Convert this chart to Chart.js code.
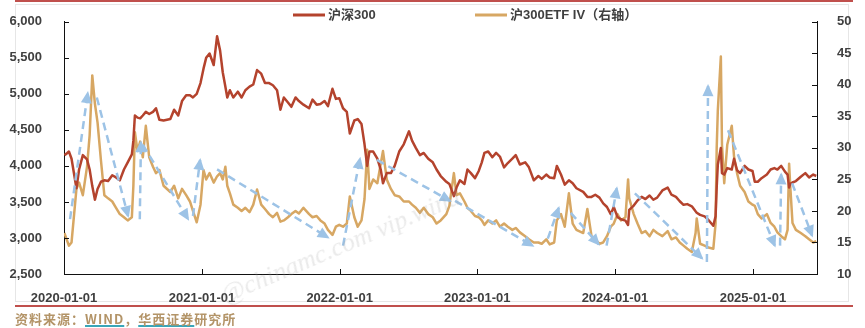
<!DOCTYPE html>
<html>
<head>
<meta charset="utf-8">
<script src="https://cdn.jsdelivr.net/npm/chart.js@4.4.1/dist/chart.umd.min.js"></script>
<style>
  body { margin: 0; background: #fff; }
  #wrap { position: relative; width: 865px; height: 328px; overflow: hidden; }
  #canvas { position: absolute; left: 0; top: 0; }
  .frame { position: absolute; left: 15px; top: 4px; width: 832px; height: 296px; border: 1px solid #e6e6e6; }
  .topline { position: absolute; left: 15px; width: 838px; top: 0; height: 2px; background: #c0504d; }
  .bottomline { position: absolute; left: 15px; width: 838px; top: 305px; height: 2px; background: #c0504d; }
  .source { position: absolute; left: 15px; top: 311px; font: bold 13px "Noto Sans CJK SC", sans-serif; color: #b39468; letter-spacing: 1px; line-height: 16px; }
  .source span { text-decoration: underline; text-decoration-color: #3aa6b9; text-decoration-thickness: 2px; }
  .mark { position: absolute; left: 228px; top: 280px; font: italic 26px "Liberation Serif", serif; color: rgba(160,160,160,0.22);
          transform: rotate(-23deg); transform-origin: 0 100%; white-space: nowrap; pointer-events: none; }
</style>
</head>
<body>
<div id="wrap">
  <div class="topline"></div>
  <div class="frame"></div>
  <canvas id="canvas" width="865" height="305"></canvas>
  <div class="mark">@chinamc.com vip.wind</div>
  <div class="bottomline"></div>
  <div class="source">资料来源：<span>WIND</span>，<span>华西证券</span>研究所</div>
</div>
<script>
// 날짜 (약 열흘 간격, 급등 구간은 촘촘하게)
const dates = [
  // 2020
  '2020-01-02','2020-01-08','2020-01-14','2020-01-21','2020-02-03','2020-02-10','2020-02-20','2020-03-02','2020-03-09','2020-03-16','2020-03-23','2020-03-30',
  '2020-04-08','2020-04-17','2020-04-27','2020-05-08','2020-05-18','2020-05-28','2020-06-08','2020-06-18','2020-06-29','2020-07-03','2020-07-07','2020-07-14',
  '2020-07-21','2020-07-28','2020-08-05','2020-08-14','2020-08-24','2020-09-01','2020-09-10','2020-09-21','2020-10-09','2020-10-19','2020-10-30','2020-11-09',
  '2020-11-20','2020-11-30','2020-12-08','2020-12-18','2020-12-28',
  // 2021
  '2021-01-05','2021-01-12','2021-01-21','2021-02-01','2021-02-10','2021-02-18','2021-02-25','2021-03-04','2021-03-09','2021-03-16','2021-03-25','2021-04-06',
  '2021-04-16','2021-04-26','2021-05-07','2021-05-17','2021-05-27','2021-06-07','2021-06-17','2021-06-28','2021-07-08','2021-07-19','2021-07-28','2021-08-06',
  '2021-08-17','2021-08-26','2021-09-06','2021-09-15','2021-09-27','2021-10-12','2021-10-21','2021-11-01','2021-11-11','2021-11-22','2021-12-01','2021-12-13',
  '2021-12-22','2021-12-31',
  // 2022
  '2022-01-10','2022-01-20','2022-01-28','2022-02-09','2022-02-18','2022-02-28','2022-03-08','2022-03-15','2022-03-21','2022-03-31','2022-04-11','2022-04-20',
  '2022-04-26','2022-05-06','2022-05-17','2022-05-27','2022-06-08','2022-06-20','2022-07-04','2022-07-12','2022-07-22','2022-08-02','2022-08-12','2022-08-24',
  '2022-09-05','2022-09-15','2022-09-26','2022-10-11','2022-10-19','2022-10-31','2022-11-07','2022-11-16','2022-11-28','2022-12-06','2022-12-15','2022-12-26',
  // 2023
  '2023-01-05','2023-01-13','2023-01-20','2023-01-30','2023-02-10','2023-02-20','2023-03-02','2023-03-13','2023-03-23','2023-04-04','2023-04-13','2023-04-24',
  '2023-05-08','2023-05-18','2023-05-31','2023-06-12','2023-06-21','2023-07-03','2023-07-12','2023-07-24','2023-07-31','2023-08-11','2023-08-21','2023-09-01',
  '2023-09-11','2023-09-21','2023-10-09','2023-10-20','2023-10-31','2023-11-10','2023-11-21','2023-12-01','2023-12-11','2023-12-21','2023-12-29',
  // 2024
  '2024-01-08','2024-01-17','2024-01-29','2024-02-05','2024-02-08','2024-02-20','2024-03-01','2024-03-12','2024-03-22','2024-04-02','2024-04-12','2024-04-22',
  '2024-05-06','2024-05-20','2024-05-30','2024-06-11','2024-06-21','2024-07-01','2024-07-11','2024-07-23','2024-08-02','2024-08-05','2024-08-14','2024-08-26',
  '2024-09-05','2024-09-18','2024-09-24','2024-09-27','2024-09-30','2024-10-08','2024-10-11','2024-10-17','2024-10-25','2024-11-06','2024-11-12','2024-11-20',
  '2024-11-28','2024-12-10','2024-12-20','2024-12-31',
  // 2025
  '2025-01-06','2025-01-14','2025-01-24','2025-02-07','2025-02-17','2025-02-27','2025-03-07','2025-03-17','2025-03-27','2025-04-03','2025-04-07','2025-04-10',
  '2025-04-16','2025-04-25','2025-05-08','2025-05-20','2025-05-30','2025-06-10','2025-06-18'
];

// 沪深300 (좌축)
const csi300 = [
  4150,4170,4200,4100,3690,3950,4150,4090,3950,3720,3530,3680, 3780,3800,3790,3870,3840,3800,3950,4050,4160,4350,4700,4670,
  4660,4700,4750,4720,4750,4800,4640,4630,4650,4780,4700,4900, 4980,4980,4950,5000,5150,
  5350,5500,5560,5400,5800,5600,5300,5100,4950,5050,4950,5030, 4950,5050,5100,5130,5330,5280,5150,5150,5120,5050,4780,4950,
  4880,4820,4950,4900,4850,4800,4920,4850,4860,4900,4830,5070, 4930,4940,
  4800,4750,4450,4630,4650,4580,4300,4000,4200,4200,4100,3950, 3760,3900,3900,4000,4200,4300,4480,4350,4250,4150,4180,4100,
  4050,3950,3860,3780,3750,3580,3700,3800,3750,3950,3900,3830,
  3930,4050,4180,4200,4120,4180,4130,3980,4040,4100,4150,4020, 4050,3980,3800,3860,3820,3880,3840,3830,4000,3880,3740,3800,
  3760,3690,3640,3570,3570,3600,3560,3480,3430,3330,3430,
  3290,3260,3240,3180,3390,3450,3520,3570,3540,3590,3530,3560, 3660,3700,3600,3570,3510,3460,3470,3440,3370,3350,3320,3300,
  3250,3170,3300,3700,4020,4250,3900,3880,3970,3950,4100,3940, 3900,4000,3950,3930,
  3780,3780,3830,3880,3950,3970,3950,4000,3920,3880,3700,3750, 3770,3790,3850,3900,3840,3880,3860
];

// 沪300ETF IV (우축)
const etfIV = [
  16.5,15.5,14.5,15.0,23.5,24.5,22.5,27.0,32.0,41.5,37.0,34.0, 28.0,22.5,22.0,21.5,20.5,19.5,19.0,18.5,19.0,24.0,32.5,29.5,
  31.0,28.5,33.5,28.5,27.0,26.0,26.5,24.0,23.0,24.0,22.0,23.5, 22.5,21.5,20.0,18.2,21.0,
  26.5,25.0,26.0,24.5,25.5,26.0,25.0,27.0,24.0,22.8,21.0,20.5, 20.0,20.5,19.8,21.0,23.4,21.0,20.3,19.5,19.0,19.7,18.3,18.5,
  19.0,19.5,20.0,19.6,20.5,19.5,19.0,19.2,18.5,18.0,17.0,16.2, 17.5,17.8,
  17.5,18.0,22.3,19.0,17.5,18.5,21.9,29.7,23.5,25.0,24.4,27.5, 29.5,25.0,23.5,22.5,22.3,21.5,21.5,21.0,20.5,19.7,20.5,19.5,
  19.0,18.0,18.5,19.5,20.8,26.0,22.5,22.8,21.5,20.5,20.0,19.2,
  19.0,18.5,17.8,18.5,18.0,18.5,17.5,18.0,17.5,17.0,17.3,16.6, 16.0,15.5,15.0,15.0,14.8,15.5,14.7,15.0,18.5,19.5,17.5,22.8,
  18.0,17.0,16.5,20.3,16.0,15.5,14.8,15.0,16.0,17.5,18.0,
  19.5,18.5,19.0,25.0,22.0,19.5,18.0,16.5,16.8,16.0,17.0,16.5, 16.0,16.8,15.5,15.8,15.0,14.5,14.0,13.5,16.5,18.8,14.8,14.5,
  14.2,14.0,18.0,30.0,36.0,44.5,30.5,24.4,30.5,33.5,28.6,26.0, 24.0,23.0,21.5,21.0,
  20.8,19.5,18.8,19.5,18.1,17.5,16.6,16.0,15.5,17.0,27.5,24.0, 18.1,17.0,16.5,16.0,15.5,15.0,15.2
];

// 추세 화살표 (시작일, 시작 IV, 끝일, 끝 IV) - 우축 기준
const arrows = [
  ['2020-01-17', 18.7, '2020-03-04', 38.7],
  ['2020-03-28', 38.0, '2020-06-19', 19.2],
  ['2020-07-20', 18.7, '2020-07-23', 30.9],
  ['2020-07-28', 30.5, '2020-11-25', 18.7],
  ['2020-12-08', 19.2, '2020-12-27', 28.1],
  ['2021-02-10', 26.6, '2021-12-01', 15.8],
  ['2022-01-10', 14.5, '2022-02-24', 28.3],
  ['2022-04-10', 28.1, '2022-10-21', 21.6],
  ['2022-11-03', 21.6, '2023-05-28', 14.5],
  ['2023-07-07', 15.6, '2023-08-05', 20.5],
  ['2023-09-06', 19.7, '2023-11-19', 14.7],
  ['2023-12-10', 14.5, '2024-01-06', 23.6],
  ['2024-02-23', 22.8, '2024-08-19', 12.5],
  ['2024-09-01', 11.9, '2024-09-04', 39.8],
  ['2024-10-27', 32.8, '2025-02-28', 14.5],
  ['2025-03-14', 14.5, '2025-03-17', 25.8],
  ['2025-04-15', 24.4, '2025-06-07', 16.1]
];

const yearTicks = ['2020-01-01','2021-01-01','2022-01-01','2023-01-01','2024-01-01','2025-01-01'];
const xStart = '2020-01-01';
const xEnd = '2025-06-20';

const toMs = s => Date.parse(s + 'T00:00:00Z');
const fmtDate = v => new Date(v).toISOString().slice(0, 10);

const RED = '#b4432d';
const TAN = '#d7a763';
const BLUE = '#9dc3e6';
const TEXT = '#404040';
const TICK_FONT = { family: '"Liberation Sans", Arial, sans-serif', size: 13, weight: 'bold' };

const datasets = [
  {
    label: '沪深300',
    data: dates.map((d, i) => ({ x: toMs(d), y: csi300[i] })),
    borderColor: RED, borderWidth: 2.5, yAxisID: 'y', order: 1
  },
  {
    label: '沪300ETF IV（右轴）',
    data: dates.map((d, i) => ({ x: toMs(d), y: etfIV[i] })),
    borderColor: TAN, borderWidth: 2.5, yAxisID: 'y1', order: 2
  }
];
arrows.forEach(a => {
  datasets.push({
    label: '', isArrow: true,
    data: [{ x: toMs(a[0]), y: a[1] }, { x: toMs(a[2]), y: a[3] }],
    borderColor: BLUE, backgroundColor: BLUE, borderWidth: 2.5, borderDash: [8, 5],
    yAxisID: 'y1', order: 0
  });
});

// 화살촉
const arrowHeads = {
  id: 'arrowHeads',
  afterDatasetsDraw(chart) {
    const ctx = chart.ctx;
    chart.data.datasets.forEach((ds, i) => {
      if (!ds.isArrow) return;
      const pts = chart.getDatasetMeta(i).data;
      const a = pts[0], b = pts[1];
      const ang = Math.atan2(b.y - a.y, b.x - a.x);
      ctx.save();
      ctx.fillStyle = BLUE;
      ctx.translate(b.x, b.y);
      ctx.rotate(ang);
      ctx.beginPath();
      ctx.moveTo(2, 0);
      ctx.lineTo(-10, -5.5);
      ctx.lineTo(-10, 5.5);
      ctx.closePath();
      ctx.fill();
      ctx.restore();
    });
  }
};

// 안쪽 눈금
const innerTicks = {
  id: 'innerTicks',
  afterDraw(chart) {
    const { ctx, chartArea: a, scales } = chart;
    ctx.save();
    ctx.strokeStyle = '#111';
    ctx.lineWidth = 1;
    ctx.beginPath();
    scales.y.ticks.forEach(t => {
      const p = Math.round(scales.y.getPixelForValue(t.value)) + 0.5;
      ctx.moveTo(a.left, p); ctx.lineTo(a.left + 5, p);
    });
    scales.y1.ticks.forEach(t => {
      const p = Math.round(scales.y1.getPixelForValue(t.value)) + 0.5;
      ctx.moveTo(a.right - 5, p); ctx.lineTo(a.right, p);
    });
    scales.x.ticks.forEach(t => {
      const p = Math.round(scales.x.getPixelForValue(t.value)) + 0.5;
      ctx.moveTo(p, a.bottom); ctx.lineTo(p, a.bottom - 5);
    });
    ctx.stroke();
    ctx.restore();
  }
};

// 상단 범례
const topLegend = {
  id: 'topLegend',
  afterDraw(chart) {
    const ctx = chart.ctx;
    const items = [{ ds: 0, x: 293 }, { ds: 1, x: 475 }];
    ctx.save();
    ctx.font = 'bold 13px "Liberation Sans", "Noto Sans CJK SC", sans-serif';
    ctx.textBaseline = 'middle';
    items.forEach(it => {
      const ds = chart.data.datasets[it.ds];
      ctx.strokeStyle = ds.borderColor;
      ctx.lineWidth = 3;
      ctx.beginPath();
      ctx.moveTo(it.x, 15);
      ctx.lineTo(it.x + 32, 15);
      ctx.stroke();
      ctx.fillStyle = TEXT;
      ctx.fillText(ds.label, it.x + 35, 15);
    });
    ctx.restore();
  }
};

const ctx = document.getElementById('canvas').getContext('2d');
const chart = new Chart(ctx, {
  type: 'line',
  data: { datasets },
  options: {
    responsive: false,
    devicePixelRatio: 1,
    animation: false,
    layout: { padding: { top: 18, left: 0, right: 0, bottom: 0 } },
    elements: { point: { radius: 0 }, line: { tension: 0, borderJoinStyle: 'round' } },
    plugins: { legend: { display: false }, tooltip: { enabled: false } },
    scales: {
      x: {
        type: 'linear',
        min: toMs(xStart), max: toMs(xEnd),
        afterBuildTicks: s => { s.ticks = yearTicks.map(d => ({ value: toMs(d) })); },
        afterFit: s => { s.height = 31; },
        ticks: { color: TEXT, font: TICK_FONT, padding: 9, maxRotation: 0, autoSkip: false, callback: v => fmtDate(v) },
        grid: { display: false },
        border: { display: true, color: '#111', width: 1 }
      },
      y: {
        position: 'left',
        min: 2500, max: 6000,
        afterFit: s => { s.width = 64; },
        ticks: { stepSize: 500, color: TEXT, font: TICK_FONT, padding: 14, callback: v => v.toLocaleString('en-US') },
        grid: { display: false },
        border: { display: true, color: '#111', width: 1 }
      },
      y1: {
        position: 'right',
        min: 10, max: 50,
        afterFit: s => { s.width = 48; },
        ticks: { stepSize: 5, color: TEXT, font: TICK_FONT, padding: 12 },
        grid: { display: false },
        border: { display: true, color: '#111', width: 1 }
      }
    }
  },
  plugins: [arrowHeads, innerTicks, topLegend]
});
</script>
</body>
</html>
